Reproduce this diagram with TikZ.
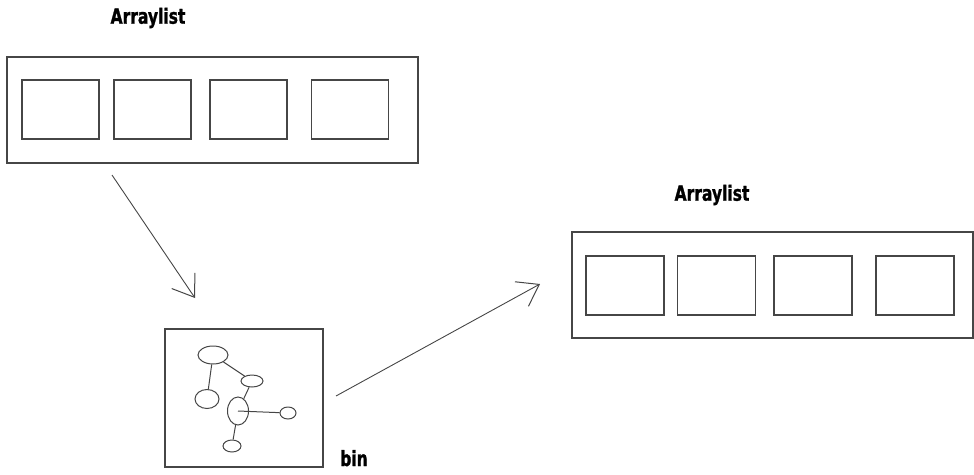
\documentclass[tikz,border=0pt]{standalone}
\usepackage{fontspec}
\setmainfont{DejaVu Sans}[FakeStretch=0.74,BoldFeatures={FakeBold=1.2}]
\usetikzlibrary{shapes.geometric,arrows.meta}
\definecolor{inkgray}{RGB}{70,70,70}
\tikzset{
  listbox/.style={shape=rectangle,draw=inkgray,line width=1.2pt,inner sep=0pt},
  cellbox/.style={shape=rectangle,draw=inkgray,line width=1.2pt,inner sep=0pt,minimum width=77pt,minimum height=59pt},
  blob/.style={shape=ellipse,draw=inkgray,line width=1pt,inner sep=0pt},
  caption/.style={font=\bfseries\fontsize{21}{22}\selectfont,inner sep=0pt},
  link/.style={draw=inkgray,line width=1pt},
  flow/.style={draw=inkgray,line width=0.9pt,-{Straight Barb[length=20pt,width=28pt,line width=1pt]}}
}
\begin{document}
\begin{tikzpicture}[x=1pt,y=-1pt]
\useasboundingbox (0,0) rectangle (974,474);

% first list
\node[caption](title1) at (148,18) {Arraylist};
\node[listbox,minimum width=411pt,minimum height=106pt](list1) at (212.5,110) {};
\node[cellbox](c11) at (60.5,109.5) {};
\node[cellbox](c12) at (152.5,109.5) {};
\node[cellbox](c13) at (248.5,109.5) {};
\node[cellbox](c14) at (350,109.5) {};

% bin with the tree
\node[listbox,minimum width=158pt,minimum height=138pt](bin) at (244,398) {};
\node[caption,anchor=base](binlabel) at (354,466) {bin};
\node[blob,minimum width=30pt,minimum height=18pt](e1) at (213,355) {};
\node[blob,minimum width=24pt,minimum height=19pt](e2) at (207,399) {};
\node[blob,minimum width=22pt,minimum height=12pt](e3) at (252,381) {};
\node[blob,minimum width=21pt,minimum height=28pt](e4) at (238,411) {};
\node[blob,minimum width=16pt,minimum height=12pt](e5) at (288,413) {};
\node[blob,minimum width=18pt,minimum height=12pt](e6) at (232,446) {};

\path (e1) edge[link] (e2);
\path (e1) edge[link] (e3);
\path (e3) edge[link] (e4);
\path (e4.center) edge[link] (e5);
\path (e4) edge[link] (e6);

% second list
\node[caption](title2) at (712,195) {Arraylist};
\node[listbox,minimum width=401pt,minimum height=106pt](list2) at (772.5,285) {};
\node[cellbox,minimum width=78pt](c21) at (625,285.5) {};
\node[cellbox,minimum width=78pt](c22) at (716.5,285.5) {};
\node[cellbox,minimum width=78pt](c23) at (813,285.5) {};
\node[cellbox,minimum width=78pt](c24) at (915,285.5) {};

% arrows
\coordinate (out1) at (112,175);
\coordinate (in1) at (195,298);
\coordinate (out2) at (336,396);
\coordinate (in2) at (540,284);
\path (out1) edge[flow] (in1);
\path (out2) edge[flow] (in2);
\end{tikzpicture}
\end{document}
